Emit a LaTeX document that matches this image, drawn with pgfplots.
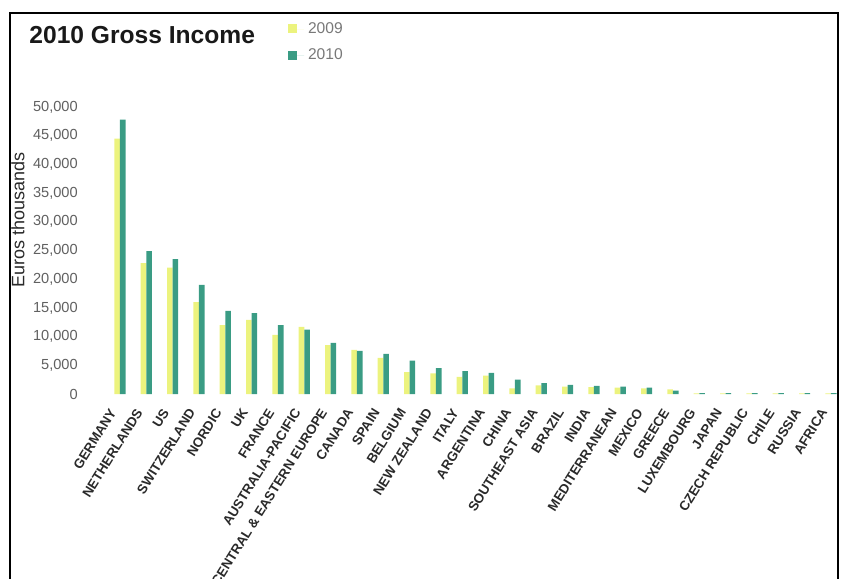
\documentclass[border=0pt]{standalone}
\usepackage{pgfplots}
\pgfplotsset{compat=1.18}
\usepackage{fontspec}
\setmainfont{Liberation Sans}
\definecolor{c2009}{HTML}{ECF37E}
\definecolor{c2010}{HTML}{3A9C84}
\definecolor{tickgray}{HTML}{606060}
\definecolor{labgray}{HTML}{2A2A2A}
\begin{document}
\begin{tikzpicture}
\useasboundingbox (0,0) rectangle (421pt,289.5pt);
\draw[line width=1.4pt] (5pt,-5pt) -- (5pt,283pt) -- (419pt,283pt) -- (419pt,-5pt);
\node[anchor=west, font=\fontsize{12.3}{14}\selectfont\bfseries, text=black!90, inner sep=0pt] at (14.5pt,272pt) {2010 Gross Income};
\begin{axis}[
  at={(53.4pt,92.5pt)}, anchor=south west,
  scale only axis, width=367.35pt, height=143.5pt,
  ybar=0pt, bar width=2.8pt,
  xmin=-0.5, xmax=27.4, ymin=0, ymax=50000,
  axis line style={draw=none}, tick style={draw=none},
  ytick={0,5000,...,50000},
  scaled y ticks=false,
  yticklabel style={/pgf/number format/.cd, fixed, 1000 sep={,}, assume math mode=true, /tikz/.cd, font=\fontsize{7.3}{8}\selectfont, text=tickgray, xshift=-11pt},
  xtick={0,...,27},
  xticklabels={GERMANY,NETHERLANDS,US,SWITZERLAND,NORDIC,UK,FRANCE,AUSTRALIA-PACIFIC,CENTRAL \& EASTERN EUROPE,CANADA,SPAIN,BELGIUM,NEW ZEALAND,ITALY,ARGENTINA,CHINA,SOUTHEAST ASIA,BRAZIL,INDIA,MEDITERRANEAN,MEXICO,GREECE,LUXEMBOURG,JAPAN,CZECH REPUBLIC,CHILE,RUSSIA,AFRICA},
  xticklabel style={rotate=58, anchor=east, font=\fontsize{6.7}{8}\selectfont\bfseries, text=labgray, yshift=1pt, xshift=-1.5pt},
  ylabel={Euros thousands},
  every axis y label/.style={at={(axis description cs:-0.121,0.606)}, rotate=90, anchor=center, font=\fontsize{9}{10}\selectfont, text=labgray},
  legend style={at={(0.238,1.325)}, anchor=north west, draw=none, fill=none, font=\fontsize{7.8}{9}\selectfont, text=tickgray!85, row sep=2.5pt},
  legend image code/.code={\fill[#1] (0pt,-2pt) rectangle (4.5pt,2.5pt); \path (0pt,0pt) -- (8pt,0pt);},
]
\addplot[fill=c2009, draw=none] coordinates {
(0,44500) (1,22800) (2,22000) (3,16000) (4,12000) (5,12900) (6,10300) (7,11700) (8,8500) (9,7700)
(10,6300) (11,3800) (12,3600) (13,3000) (14,3200) (15,1000) (16,1500) (17,1300) (18,1200) (19,1100)
(20,1000) (21,800) (22,100) (23,100) (24,100) (25,100) (26,100) (27,100)};
\addplot[fill=c2010, draw=none] coordinates {
(0,47800) (1,24900) (2,23500) (3,19000) (4,14500) (5,14100) (6,12000) (7,11200) (8,8900) (9,7500)
(10,7000) (11,5800) (12,4500) (13,4000) (14,3700) (15,2500) (16,1900) (17,1600) (18,1400) (19,1300)
(20,1100) (21,600) (22,150) (23,150) (24,150) (25,150) (26,150) (27,150)};
\legend{2009,2010}
\end{axis}
\end{tikzpicture}
\end{document}
